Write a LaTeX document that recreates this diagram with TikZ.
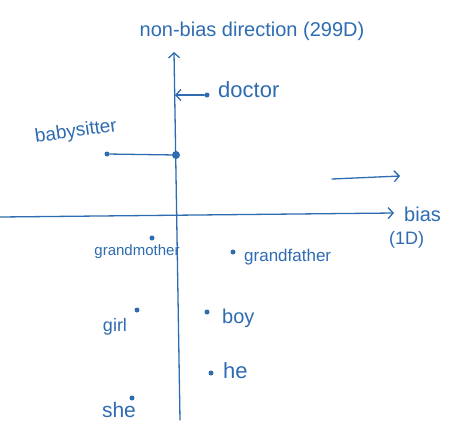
\documentclass[tikz,border=0pt]{standalone}
\usepackage{fontspec}
\setmainfont{Liberation Sans}
\usetikzlibrary{arrows.meta}
\definecolor{ink}{RGB}{46,108,178}
\begin{document}
\begin{tikzpicture}[x=1pt,y=-1pt,
  pen/.style={draw=ink, line width=1.3pt, line cap=round},
  tipped/.style={-{Straight Barb[length=5pt,width=11pt,line width=1.3pt]}},
  dot/.style={circle, fill=ink, inner sep=0pt, minimum size=5pt},
  bigdot/.style={circle, fill=ink, inner sep=0pt, minimum size=8pt},
  word/.style={text=ink, font=\fontsize{16}{16}\selectfont, inner sep=1pt}]
\useasboundingbox (0,0) rectangle (450,432);
\fill[white] (0,0) rectangle (450,432);
% axes
\coordinate (vb) at (180,420);
\coordinate (vt) at (174,52);
\coordinate (hl) at (0,217);
\coordinate (hr) at (394,213);
\draw[pen,tipped] (vb) -- (vt);
\draw[pen,tipped] (hl) -- (hr);
\coordinate (a1) at (332,179);
\coordinate (a2) at (400,176);
\draw[pen,tipped] (a1) -- (a2);
% labels of axes
\node[word, font=\fontsize{20}{20}\selectfont] (nb) at (252,31) {non-bias direction (299D)};
\node[word, anchor=west, font=\fontsize{20}{20}\selectfont] (bias) at (403,214) {bias};
\node[word, anchor=west, font=\fontsize{18}{18}\selectfont] (oned) at (388,240) {(1D)};
% doctor
\node[dot] (doc) at (207,95) {};
\coordinate (docp) at (175,95);
\draw[pen,tipped] (doc) -- (docp);
\node[word, anchor=west, font=\fontsize{22}{22}\selectfont] (doctor) at (217,90) {doctor};
% babysitter
\node[dot] (bs) at (107,154) {};
\node[bigdot] (bsp) at (176,155) {};
\draw[pen] (bs) -- (bsp);
\node[word, rotate=8, font=\fontsize{19}{19}\selectfont] (babysitter) at (76,132) {babysitter};
% gendered words
\node[dot] (gm) at (152,238) {};
\node[word, font=\fontsize{15}{15}\selectfont] (grandmother) at (137,252) {grandmother};
\node[dot] (gf) at (233,252) {};
\node[word, anchor=west, font=\fontsize{17}{17}\selectfont] (grandfather) at (243,257) {grandfather};
\node[dot] (gi) at (137,310) {};
\node[word, font=\fontsize{18}{18}\selectfont] (girl) at (115,327) {girl};
\node[dot] (bo) at (207,312) {};
\node[word, anchor=west, font=\fontsize{20}{20}\selectfont] (boy) at (221,318) {boy};
\node[dot] (h) at (211,373) {};
\node[word, anchor=west, font=\fontsize{22}{22}\selectfont] (he) at (222,371) {he};
\node[dot] (sh) at (132,398) {};
\node[word, font=\fontsize{21}{21}\selectfont] (she) at (119,410) {she};
\end{tikzpicture}
\end{document}
